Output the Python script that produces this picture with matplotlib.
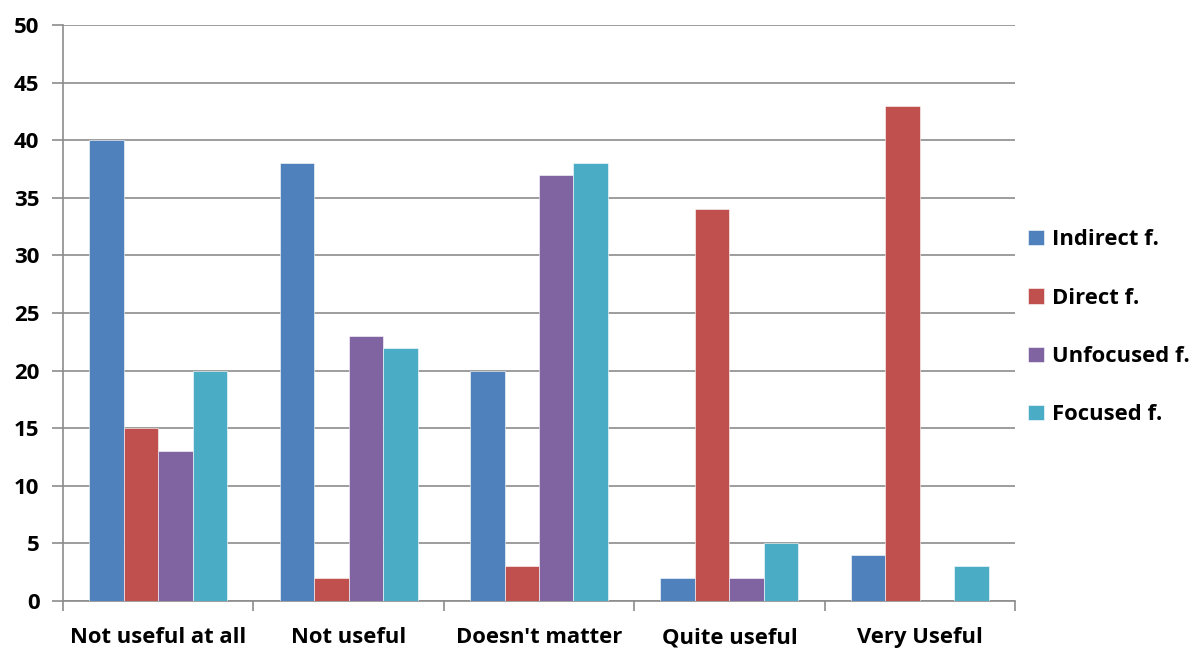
import numpy as np
import matplotlib.pyplot as plt

plt.rcParams['font.family'] = ['Open Sans', 'DejaVu Sans']
plt.rcParams['font.weight'] = 'bold'

categories = ["Not useful at all", "Not useful", "Doesn't matter", "Quite useful", "Very Useful"]
series_names = ["Indirect f.", "Direct f.", "Unfocused f.", "Focused f."]
indirect = [40, 38, 20, 2, 4]
direct = [15, 2, 3, 34, 43]
unfocused = [13, 23, 37, 2, 0]
focused = [20, 22, 38, 5, 3]
colors = ["#4F81BD", "#C0504D", "#8064A2", "#4BACC6"]

fig = plt.figure(figsize=(11.92, 6.48), dpi=100)
ax = fig.add_axes([0.0529, 0.0725, 0.7986, 0.8889])

x = np.arange(len(categories))
w = 0.181
handles = []
for i, vals in enumerate([indirect, direct, unfocused, focused]):
    b = ax.bar(x + (i - 1.5) * w, vals, w, color=colors[i], edgecolor='white',
               linewidth=0.4, zorder=3, label=series_names[i])
    handles.append(b)

ax.set_xlim(-0.5, len(categories) - 0.5)
ax.set_ylim(0, 50)
ax.set_yticks(np.arange(0, 51, 5))
ax.grid(axis='y', color='#8c8c8c', linewidth=1.2, zorder=0)

# category labels under centers, tick marks on boundaries
ax.set_xticks(x)
ax.set_xticklabels(categories, fontsize=15.8, fontweight='bold')
ax.tick_params(axis='x', length=0, pad=19)
ax.set_xticks(np.arange(-0.5, len(categories)), minor=True)
ax.tick_params(axis='x', which='minor', length=7, width=1.2, color='#8c8c8c')
ax.tick_params(axis='y', length=8, width=1.2, color='#8c8c8c', labelsize=16, pad=9)
for t in ax.get_yticklabels():
    t.set_fontweight('bold')

for s in ['top', 'right']:
    ax.spines[s].set_visible(False)
for s in ['left', 'bottom']:
    ax.spines[s].set_color('#8c8c8c')
    ax.spines[s].set_linewidth(1.2)

fig.legend(handles=handles, loc='center left', bbox_to_anchor=(0.846, 0.495),
           frameon=False, handlelength=0.7, handleheight=0.7,
           handletextpad=0.4, labelspacing=1.7, prop={'weight': 'bold', 'size': 15.8})

fig.savefig('out.png', dpi=100)
